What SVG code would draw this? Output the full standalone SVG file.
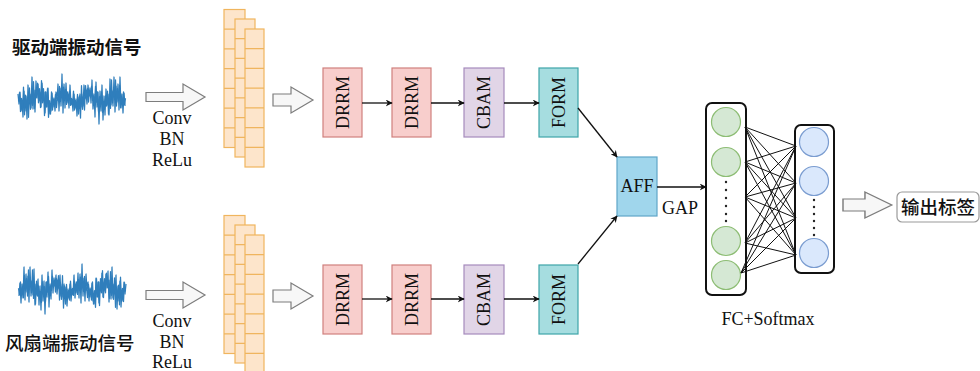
<svg xmlns="http://www.w3.org/2000/svg" xmlns:xlink="http://www.w3.org/1999/xlink" width="980" height="371" viewBox="0 0 980 371">
  <style>
    .serif { font-family: "Liberation Serif", "Times New Roman", serif; font-size: 18px; fill: #111; }
    .cjk { font-family: "Noto Sans CJK SC", "Noto Sans", sans-serif; fill: #111; }
    .wave { fill: none; stroke: #2f7ebc; stroke-width: 1.25; stroke-linejoin: round; }
    .fm { fill: #fde5cb; stroke: #f0b55e; stroke-width: 1.2; }
    .fmline { fill: none; stroke: #f0b55e; stroke-width: 1.2; }
    .hollow { fill: #f7f7f7; stroke: #7d7d7d; stroke-width: 1.2; }
    .drrm { fill: #f8cecc; stroke: #d0807d; stroke-width: 1.2; }
    .cbam { fill: #e1d5e7; stroke: #a68bbd; stroke-width: 1.2; }
    .form { fill: #a6dde0; stroke: #3ea5a8; stroke-width: 1.2; }
    .aff { fill: #a0d6ec; stroke: #5fa6c8; stroke-width: 1.2; }
    .col { fill: #fff; stroke: #111; stroke-width: 2; }
    .gn { fill: #d5e8d4; stroke: #8dbd74; stroke-width: 1.2; }
    .bn { fill: #dae8fc; stroke: #7a9cd0; stroke-width: 1.2; }
    .dot { fill: #222; }
    .link { fill: none; stroke: #111; stroke-width: 1.3; }
    .fc { fill: none; stroke: #111; stroke-width: 1; }
  </style>
  <defs>
    <marker id="arrow" viewBox="0 0 10 10" refX="9" refY="5" markerWidth="7" markerHeight="7" markerUnits="userSpaceOnUse" orient="auto">
      <path d="M0,0 L10,5 L0,10 L3,5 Z" fill="#111"/>
    </marker>
    <!-- noisy vibration trace, centred on y=0 -->
    <g id="trace">
      <polyline class="wave" points="0,-5 1,5 2,-7 3,12 4,3 5,18 6,-8 7,12 8,-3 9,20 10,-14 11,5 12,-5 13,9 14,-22 15,10 16,-9 17,13 18,-18 19,-1 20,-15 21,2 22,-7 23,8 24,-16 25,2 26,-7 27,14 28,-7 29,8 30,-11 31,15 32,5 33,12 34,-6 35,8 36,-1 37,12 38,-7 39,0 40,-15 41,12 42,-11 43,7 44,-25 45,14 46,-15 47,9 48,-16 49,4 50,-5 51,9 52,-14 53,6 54,1 55,12 56,-5 57,9 58,0 59,17 60,-2 61,7 62,-5 63,8 64,-2 65,7 66,-14 67,0 68,-6 69,5 70,-14 71,-3 72,-11 73,4 74,-19 75,10 76,-5 77,18 78,-17 79,8 80,-7 81,25 82,-8 83,12 84,-14 85,21 86,-3 87,16 88,-10 89,6 90,-5 91,16 92,-20 93,6 94,-8 95,7 96,-22 97,13 98,-13 99,3 100,-15 101,11 102,-22 103,9 104,-5 105,14 106,-6 107,7"/>
      <polyline class="wave" transform="translate(0.5,0) scale(1,0.8)" points="0,3 1,-8 2,16 3,-1 4,14 5,-15 6,20 7,-5 8,13 9,-2 10,23 11,-14 12,13 13,-4 14,8 15,-22 16,12 17,-11 18,-2 19,-20 20,5 21,-13 22,11 23,-23 24,5 25,-13 26,21 27,-9 28,10 29,-13 30,23 31,2 32,19 33,-9 34,14 35,0 36,7 37,-6 38,11 39,-2 40,2 41,-16 42,3 43,-8 44,0 45,-15 46,-4 47,-12 48,7 49,-9 50,2 51,-10 52,8 53,-1 54,8 55,-10 56,14 57,2 58,13 59,-6 60,19 61,-4 62,24 63,-17 64,13 65,-7 66,14 67,-17 68,-4 69,-13 70,4 71,-11 72,-3 73,-16 74,2 75,-4 76,8 77,-16 78,4 79,-9 80,16 81,-3 82,7 83,-9 84,17 85,3 86,12 87,-4 88,9 89,-10 90,19 91,-5 92,12 93,-24 94,5 95,-11 96,-3 97,-24 98,9 99,-13 100,2 101,-17 102,11 103,-2 104,8 105,-9 106,7 107,-1"/>
    </g>
    <!-- three stacked feature maps of seven cells each -->
    <g id="stack">
      <rect class="fm" x="0" y="0" width="21" height="138"/>
      <path class="fmline" d="M0,19.7h21M0,39.4h21M0,59.1h21M0,78.9h21M0,98.6h21M0,118.3h21"/>
      <rect class="fm" x="11" y="9.5" width="20" height="138"/>
      <path class="fmline" d="M11,29.2h20M11,48.9h20M11,68.6h20M11,88.4h20M11,108.1h20M11,127.8h20"/>
      <rect class="fm" x="21" y="19.5" width="19" height="138"/>
      <path class="fmline" d="M21,39.2h19M21,58.9h19M21,78.6h19M21,98.4h19M21,118.1h19M21,137.8h19"/>
    </g>
    <!-- hollow block arrows -->
    <polygon id="bigArrow" class="hollow" points="0,-4.5 37,-4.5 37,-13 59,0 37,13 37,4.5 0,4.5"/>
    <polygon id="smallArrow" class="hollow" points="0,-6 18,-6 18,-13 40,0 18,13 18,6 0,6"/>
  </defs>

  <!-- input signals -->
  <g id="signal-drive">
    <text class="cjk" x="12" y="54" font-size="18.5" font-weight="bold">驱动端振动信号</text>
    <use xlink:href="#trace" transform="translate(18,99)"/>
  </g>
  <g id="signal-fan">
    <use xlink:href="#trace" transform="translate(126,289) scale(-1,1)"/>
    <text class="cjk" x="5" y="350" font-size="18.5" font-weight="500">风扇端振动信号</text>
  </g>

  <!-- shallow convolution stage -->
  <g id="conv-top">
    <use xlink:href="#bigArrow" transform="translate(146,97)"/>
    <text class="serif" x="172" y="124" text-anchor="middle">Conv</text>
    <text class="serif" x="172" y="145" text-anchor="middle">BN</text>
    <text class="serif" x="172" y="166" text-anchor="middle">ReLu</text>
  </g>
  <g id="conv-bottom">
    <use xlink:href="#bigArrow" transform="translate(146,295)"/>
    <text class="serif" x="172" y="327" text-anchor="middle">Conv</text>
    <text class="serif" x="172" y="348" text-anchor="middle">BN</text>
    <text class="serif" x="172" y="368" text-anchor="middle">ReLu</text>
  </g>
  <g id="features-top">
    <use xlink:href="#stack" transform="translate(224,9.5)"/>
    <use xlink:href="#smallArrow" transform="translate(273,100)"/>
  </g>
  <g id="features-bottom">
    <use xlink:href="#stack" transform="translate(224,215.5)"/>
    <use xlink:href="#smallArrow" transform="translate(273,296)"/>
  </g>

  <!-- upper branch -->
  <g id="drrm-top-1">
    <rect class="drrm" x="323" y="68" width="39" height="69"/>
    <text class="serif" transform="translate(342.5,102.5) rotate(-90)" text-anchor="middle" dominant-baseline="central">DRRM</text>
  </g>
  <g id="drrm-top-2">
    <rect class="drrm" x="392" y="68" width="39" height="69"/>
    <text class="serif" transform="translate(411.5,102.5) rotate(-90)" text-anchor="middle" dominant-baseline="central">DRRM</text>
  </g>
  <g id="cbam-top">
    <rect class="cbam" x="464" y="68" width="40" height="69"/>
    <text class="serif" transform="translate(484,102.5) rotate(-90)" text-anchor="middle" dominant-baseline="central">CBAM</text>
  </g>
  <g id="form-top">
    <rect class="form" x="539" y="68" width="39" height="69"/>
    <text class="serif" transform="translate(558.5,102.5) rotate(-90)" text-anchor="middle" dominant-baseline="central">FORM</text>
  </g>

  <!-- lower branch -->
  <g id="drrm-bottom-1">
    <rect class="drrm" x="323" y="265" width="39" height="69"/>
    <text class="serif" transform="translate(342.5,299.5) rotate(-90)" text-anchor="middle" dominant-baseline="central">DRRM</text>
  </g>
  <g id="drrm-bottom-2">
    <rect class="drrm" x="392" y="265" width="39" height="69"/>
    <text class="serif" transform="translate(411.5,299.5) rotate(-90)" text-anchor="middle" dominant-baseline="central">DRRM</text>
  </g>
  <g id="cbam-bottom">
    <rect class="cbam" x="464" y="265" width="40" height="69"/>
    <text class="serif" transform="translate(484,299.5) rotate(-90)" text-anchor="middle" dominant-baseline="central">CBAM</text>
  </g>
  <g id="form-bottom">
    <rect class="form" x="539" y="265" width="39" height="69"/>
    <text class="serif" transform="translate(558.5,299.5) rotate(-90)" text-anchor="middle" dominant-baseline="central">FORM</text>
  </g>

  <!-- fusion -->
  <g id="aff">
    <rect class="aff" x="617" y="157" width="40" height="59"/>
    <text class="serif" x="637" y="192" text-anchor="middle">AFF</text>
  </g>
  <text class="serif" x="680" y="214" text-anchor="middle">GAP</text>

  <!-- classifier -->
  <g id="fc-hidden">
    <rect class="col" x="706" y="103" width="40" height="192" rx="6"/>
    <circle class="gn" cx="726" cy="122" r="14.5"/>
    <circle class="gn" cx="726" cy="162" r="14.5"/>
    <circle class="gn" cx="726" cy="241" r="14.5"/>
    <circle class="gn" cx="726" cy="275" r="14.5"/>
    <circle class="dot" cx="726" cy="182" r="1.2"/>
    <circle class="dot" cx="726" cy="190" r="1.2"/>
    <circle class="dot" cx="726" cy="198" r="1.2"/>
    <circle class="dot" cx="726" cy="206" r="1.2"/>
    <circle class="dot" cx="726" cy="214" r="1.2"/>
    <circle class="dot" cx="726" cy="221" r="1.2"/>
  </g>
  <g id="fc-output">
    <rect class="col" x="795" y="125" width="39" height="148" rx="6"/>
    <circle class="bn" cx="814" cy="142" r="14.5"/>
    <circle class="bn" cx="814" cy="181" r="14.5"/>
    <circle class="bn" cx="814" cy="253" r="14.5"/>
    <circle class="dot" cx="814" cy="200" r="1.2"/>
    <circle class="dot" cx="814" cy="207" r="1.2"/>
    <circle class="dot" cx="814" cy="214" r="1.2"/>
    <circle class="dot" cx="814" cy="221" r="1.2"/>
    <circle class="dot" cx="814" cy="228" r="1.2"/>
    <circle class="dot" cx="814" cy="235" r="1.2"/>
  </g>
  <text class="serif" x="768" y="325" text-anchor="middle">FC+Softmax</text>

  <g id="result">
    <use xlink:href="#smallArrow" transform="translate(843,205) scale(1.22,1)"/>
    <rect x="897" y="192" width="82" height="30" rx="5" fill="#fff" stroke="#9a9a9a" stroke-width="1.2"/>
    <text class="cjk" x="938" y="214" font-size="18.5" font-weight="500" text-anchor="middle">输出标签</text>
  </g>

  <!-- connectors -->
  <g id="connectors">
    <line class="link" x1="362" y1="103" x2="392" y2="103" marker-end="url(#arrow)"/>
    <line class="link" x1="431" y1="103" x2="464" y2="103" marker-end="url(#arrow)"/>
    <line class="link" x1="504" y1="103" x2="539" y2="103" marker-end="url(#arrow)"/>
    <line class="link" x1="362" y1="299" x2="392" y2="299" marker-end="url(#arrow)"/>
    <line class="link" x1="431" y1="299" x2="464" y2="299" marker-end="url(#arrow)"/>
    <line class="link" x1="504" y1="299" x2="539" y2="299" marker-end="url(#arrow)"/>
    <line class="link" x1="578" y1="108" x2="617" y2="157" marker-end="url(#arrow)"/>
    <line class="link" x1="578" y1="264" x2="617" y2="216" marker-end="url(#arrow)"/>
    <line class="link" x1="657" y1="187" x2="706" y2="187" marker-end="url(#arrow)"/>
    <!-- fully connected layer -->
    <path class="fc" d="M745,127L796,146M745,127L796,183M745,127L796,218M745,127L796,255
      M745,162L796,146M745,162L796,183M745,162L796,218M745,162L796,255
      M745,197L796,146M745,197L796,183M745,197L796,218M745,197L796,255
      M745,243L796,146M745,243L796,183M745,243L796,218M745,243L796,255
      M741,273L796,146M741,273L796,183M741,273L796,218M741,273L796,255"/>
  </g>
</svg>
